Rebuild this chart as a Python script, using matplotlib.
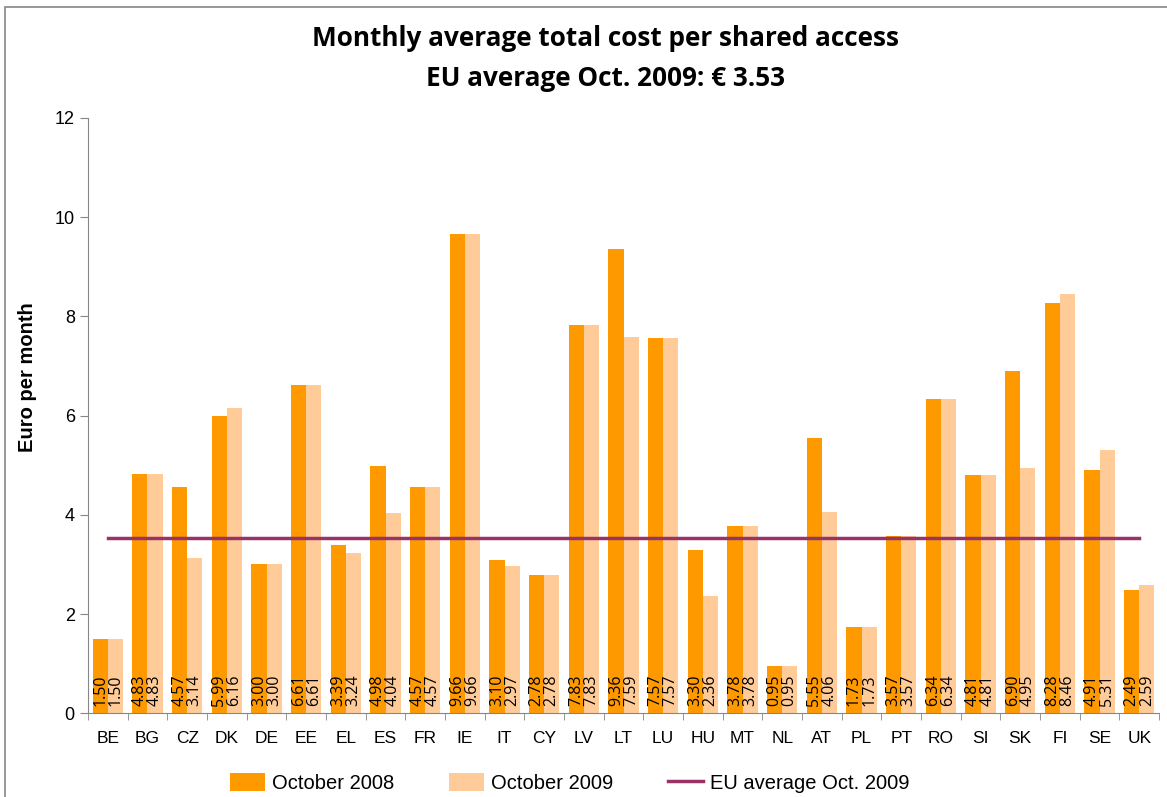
import matplotlib.pyplot as plt
import numpy as np
from matplotlib.patches import Rectangle

countries = ["BE", "BG", "CZ", "DK", "DE", "EE", "EL", "ES", "FR", "IE", "IT", "CY", "LV", "LT",
             "LU", "HU", "MT", "NL", "AT", "PL", "PT", "RO", "SI", "SK", "FI", "SE", "UK"]
oct_2008 = [1.50, 4.83, 4.57, 5.99, 3.00, 6.61, 3.39, 4.98, 4.57, 9.66, 3.10, 2.78, 7.83, 9.36,
            7.57, 3.30, 3.78, 0.95, 5.55, 1.73, 3.57, 6.34, 4.81, 6.90, 8.28, 4.91, 2.49]
oct_2009 = [1.50, 4.83, 3.14, 6.16, 3.00, 6.61, 3.24, 4.04, 4.57, 9.66, 2.97, 2.78, 7.83, 7.59,
            7.57, 2.36, 3.78, 0.95, 4.06, 1.73, 3.57, 6.34, 4.81, 4.95, 8.46, 5.31, 2.59]
eu_avg = 3.53

c08 = "#FF9900"
c09 = "#FFCC99"
cavg = "#993366"

fig = plt.figure(figsize=(11.67, 7.97), dpi=100)
ax = fig.add_axes([0.0754, 0.105, 0.9178, 0.747])

x = np.arange(len(countries))
w = 0.38
b1 = ax.bar(x - w / 2, oct_2008, w, color=c08, label="October 2008", zorder=2)
b2 = ax.bar(x + w / 2, oct_2009, w, color=c09, label="October 2009", zorder=2)
avg_line, = ax.plot(x, [eu_avg] * len(x), color=cavg, lw=2.5, label="EU average Oct. 2009", zorder=3)

# value labels, rotated, sitting at the bar base
for bars, vals in ((b1, oct_2008), (b2, oct_2009)):
    for r, v in zip(bars, vals):
        ax.text(r.get_x() + r.get_width() / 2, 0.14, f"{v:.2f}", rotation=90,
                ha="center", va="bottom", fontsize=11.5, family="Open Sans", zorder=4)

ax.set_xlim(-0.5, len(countries) - 0.5)
ax.set_ylim(0, 12)
ax.set_yticks(range(0, 13, 2))
ax.set_xticks(x)
ax.set_xticklabels(countries, family="Liberation Sans", fontsize=12.5)
ax.set_xticks(np.arange(-0.5, len(countries)), minor=True)
ax.tick_params(axis="x", which="major", length=0, pad=13)
ax.tick_params(axis="x", which="minor", length=5, color="#868686")
ax.tick_params(axis="y", length=6, color="#868686", labelsize=13)
for t in ax.get_yticklabels():
    t.set_family("Liberation Sans")

for s in ("top", "right"):
    ax.spines[s].set_visible(False)
for s in ("left", "bottom"):
    ax.spines[s].set_color("#868686")

ax.set_ylabel("Euro per month", family="Liberation Sans", fontweight="bold", fontsize=14.5)
ax.yaxis.set_label_coords(-0.0475, 0.565)

fig.text(0.519, 0.952, "Monthly average total cost per shared access", ha="center", va="center",
         family="Open Sans", fontweight="bold", fontsize=18.8)
fig.text(0.519, 0.901, "EU average Oct. 2009: € 3.53", ha="center", va="center",
         family="Open Sans", fontweight="bold", fontsize=18.8)

fig.legend([b1, b2, avg_line], ["October 2008", "October 2009", "EU average Oct. 2009"],
           loc="center", bbox_to_anchor=(0.488, 0.018), ncol=3, frameon=False,
           prop={"family": "Liberation Sans", "size": 14.5}, handlelength=1.75,
           handleheight=1.0, columnspacing=2.7, handletextpad=0.35)

fig.patches.append(Rectangle((0.004, -0.1), 1.2, 1.091, transform=fig.transFigure,
                             fill=False, edgecolor="#868686", lw=1.2))

fig.savefig("out.png", dpi=100)
